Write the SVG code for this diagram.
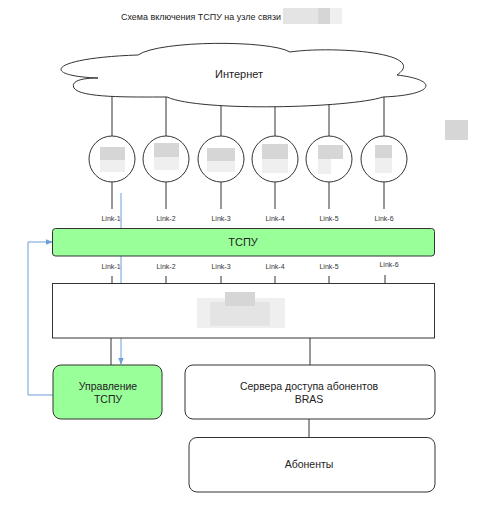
<svg xmlns="http://www.w3.org/2000/svg" width="481" height="517" viewBox="0 0 481 517">
<defs>
<style>
.ln{stroke:#333;stroke-width:1;fill:none}
.bl{stroke:#6a9fd8;stroke-width:1;fill:none}
.box{fill:#fff;stroke:#333;stroke-width:1}
.grn{fill:#99ff99;stroke:#333;stroke-width:1}
.t{font-family:"Liberation Sans",Arial,sans-serif;fill:#222;text-anchor:middle}
.lk{font-size:7px;fill:#333}
.bl1{fill:#e4e4e4}
.bl2{fill:#d6d6d6}
.bl3{fill:#efefef}
</style>
<marker id="ah" viewBox="0 0 10 10" refX="9" refY="5" markerWidth="7" markerHeight="7" orient="auto" markerUnits="userSpaceOnUse">
<path d="M0,1 L10,5 L0,9 Z" fill="#6a9fd8"/>
</marker>
</defs>
<rect width="481" height="517" fill="#fff"/>

<g id="title">
<text class="t" x="121" y="19.5" font-size="9" textLength="160" lengthAdjust="spacingAndGlyphs" style="text-anchor:start">Схема включения ТСПУ на узле связи</text>
<rect class="bl1" x="283" y="8" width="35" height="16"/>
<rect class="bl2" x="318" y="8" width="12" height="16"/>
<rect class="bl3" x="330" y="8" width="12" height="16"/>
</g>
<rect class="bl2" x="445" y="120" width="23" height="20"/>

<g id="connectors">
<line class="ln" x1="112" y1="90" x2="112" y2="136"/>
<line class="ln" x1="166" y1="90" x2="166" y2="136"/>
<line class="ln" x1="221" y1="95" x2="221" y2="136"/>
<line class="ln" x1="275" y1="95" x2="275" y2="136"/>
<line class="ln" x1="329" y1="95" x2="329" y2="136"/>
<line class="ln" x1="384" y1="90" x2="384" y2="136"/>

<line class="ln" x1="112" y1="182" x2="112" y2="209"/>
<line class="ln" x1="166" y1="182" x2="166" y2="209"/>
<line class="ln" x1="221" y1="182" x2="221" y2="209"/>
<line class="ln" x1="275" y1="182" x2="275" y2="209"/>
<line class="ln" x1="329" y1="182" x2="329" y2="209"/>
<line class="ln" x1="384" y1="182" x2="384" y2="209"/>

<line class="ln" x1="112" y1="276" x2="112" y2="283"/>
<line class="ln" x1="166" y1="276" x2="166" y2="283"/>
<line class="ln" x1="221" y1="276" x2="221" y2="283"/>
<line class="ln" x1="275" y1="276" x2="275" y2="283"/>
<line class="ln" x1="329" y1="276" x2="329" y2="283"/>
<line class="ln" x1="385" y1="275" x2="385" y2="283"/>

<line class="ln" x1="111" y1="338" x2="111" y2="365"/>
<line class="ln" x1="310" y1="338" x2="310" y2="365"/>
<line class="ln" x1="309" y1="419" x2="309" y2="437"/>

<path class="bl" d="M53,395 H28 V242 H52" marker-end="url(#ah)"/>
<path class="bl" d="M121,193 V364" marker-end="url(#ah)"/>
</g>

<g id="internet">
<path class="box" d="M98,78 C40,76 48,58 138,55 C160,40 270,40 290,52 C330,46 430,52 397,75 C440,80 435,95 383,97 C350,108 200,112 167,97 C130,97 80,98 74,88 C70,80 85,78 98,78 Z"/>
<text class="t" x="239" y="78" font-size="11">Интернет</text>
</g>

<g id="node1"><circle class="box" cx="112" cy="159" r="23"/><rect class="bl2" x="100" y="147" width="25" height="13"/><rect class="bl3" x="100" y="160" width="25" height="12"/></g>
<g id="node2"><circle class="box" cx="166" cy="159" r="23"/><rect class="bl2" x="154" y="143" width="25" height="14"/><rect class="bl3" x="154" y="157" width="25" height="13"/></g>
<g id="node3"><circle class="box" cx="221" cy="159" r="23"/><rect class="bl2" x="207" y="148" width="28" height="13"/><rect class="bl3" x="207" y="161" width="28" height="11"/></g>
<g id="node4"><circle class="box" cx="275" cy="159" r="23"/><rect class="bl2" x="262" y="144" width="26" height="15"/><rect class="bl3" x="262" y="159" width="26" height="14"/></g>
<g id="node5"><circle class="box" cx="329" cy="159" r="23"/><rect class="bl2" x="318" y="145" width="25" height="14"/><rect class="bl3" x="318" y="159" width="13" height="15"/></g>
<g id="node6"><circle class="box" cx="384" cy="159" r="23"/><rect class="bl2" x="375" y="145" width="17" height="13"/><rect class="bl3" x="375" y="158" width="17" height="15"/></g>

<g id="links-top">
<text class="t lk" x="111" y="221">Link-1</text>
<text class="t lk" x="166" y="221">Link-2</text>
<text class="t lk" x="221" y="221">Link-3</text>
<text class="t lk" x="275" y="221">Link-4</text>
<text class="t lk" x="329" y="221">Link-5</text>
<text class="t lk" x="384" y="221">Link-6</text>
</g>

<g id="tspu">
<rect class="grn" x="52.5" y="228.5" width="382" height="27.5" rx="3"/>
<text class="t" x="243" y="246" font-size="11">ТСПУ</text>
</g>

<g id="links-bottom">
<text class="t lk" x="111" y="269">Link-1</text>
<text class="t lk" x="166" y="269">Link-2</text>
<text class="t lk" x="221" y="269">Link-3</text>
<text class="t lk" x="275" y="269">Link-4</text>
<text class="t lk" x="329" y="269">Link-5</text>
<text class="t lk" x="389" y="267">Link-6</text>
</g>

<g id="router">
<rect class="box" x="52.5" y="283.5" width="382" height="54.5"/>
<rect class="bl3" x="197" y="298" width="88" height="30"/>
<rect class="bl1" x="210" y="302" width="60" height="24"/>
<rect class="bl2" x="225" y="292" width="30" height="14"/>
</g>

<g id="upravlenie">
<rect class="grn" x="53" y="365" width="109" height="54" rx="8"/>
<text class="t" x="108" y="389.5" font-size="10.5">Управление</text>
<text class="t" x="108" y="402.5" font-size="10.5">ТСПУ</text>
</g>

<g id="bras">
<rect class="box" x="185" y="365" width="250" height="54" rx="8"/>
<text class="t" x="309" y="389.5" font-size="10.5">Сервера доступа абонентов</text>
<text class="t" x="309" y="402.5" font-size="10.5">BRAS</text>
</g>

<g id="abonenty">
<rect class="box" x="189" y="437.5" width="246" height="54.5" rx="8"/>
<text class="t" x="309" y="468" font-size="10.5">Абоненты</text>
</g>
</svg>
